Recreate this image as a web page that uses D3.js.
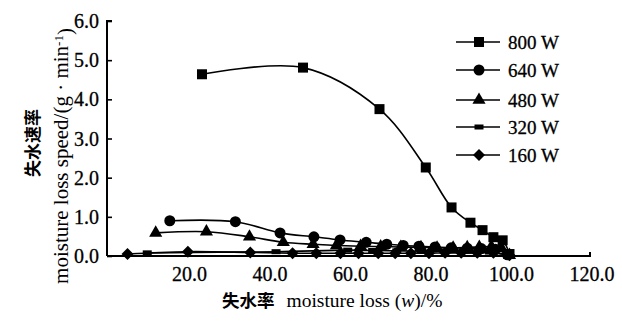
<!DOCTYPE html>
<html>
<head>
<meta charset="utf-8">
<script src="https://cdn.jsdelivr.net/npm/d3@7"></script>
<style>
    body { margin: 0; background: #fff; }
    svg text { font-family: "Liberation Serif", "DejaVu Serif", serif; fill: #000; }
    .cjk { font-family: "Noto Sans CJK SC", sans-serif; font-weight: bold; }
</style>
</head>
<body>
<svg id="chart" width="622" height="322"></svg>
<script>
// values
var seriesNames = ["800 W", "640 W", "480 W", "320 W", "160 W"];

var loss800 = [23.6, 48.7, 67.7, 79.2, 85.6, 90.3, 93.3, 96.0, 98.3, 100.0];
var speed800 = [4.64, 4.81, 3.75, 2.26, 1.24, 0.85, 0.66, 0.48, 0.40, 0.05];

var loss640 = [15.6, 31.9, 43.0, 51.4, 57.9, 64.4, 69.5, 73.6, 77.5, 81.5, 85.5, 89.5, 93.0, 96.5, 99.5];
var speed640 = [0.90, 0.875, 0.59, 0.49, 0.41, 0.35, 0.30, 0.27, 0.25, 0.23, 0.21, 0.20, 0.19, 0.17, 0.03];

var loss480 = [12.1, 24.7, 35.4, 43.8, 51.2, 57.0, 63.0, 68.0, 73.0, 78.0, 82.0, 86.0, 89.5, 92.5, 95.5, 98.0, 100.0];
var speed480 = [0.59, 0.62, 0.49, 0.35, 0.30, 0.27, 0.25, 0.24, 0.23, 0.22, 0.21, 0.21, 0.22, 0.23, 0.24, 0.20, 0.02];

var loss320 = [10.0, 42.0, 59.8, 66.0, 72.0, 78.0, 84.0, 90.0, 95.0, 100.0];
var speed320 = [0.08, 0.11, 0.15, 0.14, 0.13, 0.12, 0.12, 0.12, 0.10, 0.02];

var loss160 = [5.1, 20.1, 35.6, 46.1, 52.0, 58.0, 62.5, 67.4, 71.6, 75.5, 80.0, 84.0, 88.0, 92.0, 96.0, 100.0];
var speed160 = [0.05, 0.11, 0.09, 0.07, 0.07, 0.07, 0.07, 0.07, 0.07, 0.07, 0.07, 0.08, 0.08, 0.08, 0.08, 0.02];

var xTicks = [20, 40, 60, 80, 100, 120];
var yTicks = [0, 1, 2, 3, 4, 5, 6];

var lossCols = [loss800, loss640, loss480, loss320, loss160];
var speedCols = [speed800, speed640, speed480, speed320, speed160];
var shapes = ["square", "circle", "triangle", "dash", "diamond"];

var svg = d3.select("#chart");

var x = d3.scaleLinear().domain([0, 120]).range([107, 590]);
var y = d3.scaleLinear().domain([0, 6]).range([256, 21]);

// axes
var yAxis = svg.append("g")
    .attr("transform", "translate(107,0)")
    .call(d3.axisRight(y).tickValues(yTicks).tickSize(5).tickFormat(""));
yAxis.select(".domain").attr("stroke-width", 2).attr("d", "M5,21H0V256");
yAxis.selectAll(".tick line").attr("stroke-width", 1.6);

svg.selectAll(".ylab")
    .data(yTicks)
    .enter().append("text")
    .attr("class", "ylab")
    .attr("x", 99)
    .attr("y", function (d) { return y(d); })
    .attr("dy", "0.35em")
    .attr("text-anchor", "end")
    .style("font-size", "20px")
    .style("stroke", "#000").style("stroke-width", 0.3)
    .text(function (d) { return d.toFixed(1); });

var xAxis = svg.append("g")
    .attr("transform", "translate(0,256)")
    .call(d3.axisTop(x).tickValues([120]).tickSize(4).tickFormat(""));
xAxis.select(".domain").attr("stroke-width", 2).attr("d", "M107,0H590V-4");
xAxis.selectAll(".tick line").remove();

svg.selectAll(".xlab")
    .data(xTicks)
    .enter().append("text")
    .attr("class", "xlab")
    .attr("x", function (d) { return x(d) + 2; })
    .attr("y", 274)
    .attr("dy", "0.35em")
    .attr("text-anchor", "middle")
    .style("font-size", "20px")
    .style("stroke", "#000").style("stroke-width", 0.3)
    .text(function (d) { return d.toFixed(1); });

// axis titles
var xt = svg.append("text")
    .attr("x", 222)
    .attr("y", 307)
    .style("font-size", "19.5px");
xt.append("tspan").attr("class", "cjk").style("font-size", "17.5px").text("失水率");
xt.append("tspan").attr("dx", 12).text("moisture loss (");
xt.append("tspan").style("font-style", "italic").text("w");
xt.append("tspan").text(")/%");

svg.append("text")
    .attr("class", "cjk")
    .attr("transform", "translate(33,143) rotate(-90)")
    .attr("text-anchor", "middle")
    .attr("dy", "0.35em")
    .style("font-size", "17px")
    .text("失水速率");

var yt = svg.append("text")
    .attr("transform", "translate(61,156) rotate(-90)")
    .attr("text-anchor", "middle")
    .attr("dy", "0.35em")
    .style("font-size", "21px");
yt.append("tspan").text("moisture loss speed/(g · min");
yt.append("tspan").attr("dy", "-0.45em").style("font-size", "13px").text("-1");
yt.append("tspan").attr("dy", "0.45em").text(")");

// marker drawing
function drawMarker(g, shape) {
    if (shape == "square")
        g.append("rect").attr("x", -5).attr("y", -5).attr("width", 10).attr("height", 10);
    else if (shape == "circle")
        g.append("circle").attr("r", 5.5);
    else if (shape == "triangle")
        g.append("path").attr("d", d3.symbol(d3.symbolTriangle, 75)());
    else if (shape == "dash")
        g.append("rect").attr("x", -4.5).attr("y", -2.5).attr("width", 9).attr("height", 5);
    else
        g.append("path").attr("d", "M0,-6L6,0L0,6L-6,0Z");
}

var line = d3.line()
    .x(function (d) { return x(d[0]); })
    .y(function (d) { return y(d[1]); })
    .curve(d3.curveCatmullRom.alpha(0.5));

// draw lower series first so 800 W sits on top
for (var s = seriesNames.length - 1; s >= 0; s--) {
    var pts = lossCols[s].map(function (v, i) { return [v, speedCols[s][i]]; });
    svg.append("path")
        .datum(pts)
        .attr("fill", "none")
        .attr("stroke", "#000")
        .attr("stroke-width", 1.6)
        .attr("d", line);
    var shape = shapes[s];
    svg.selectAll(".m" + s)
        .data(pts)
        .enter().append("g")
        .attr("class", "m" + s)
        .attr("transform", function (d) { return "translate(" + x(d[0]) + "," + y(d[1]) + ")"; })
        .attr("fill", "#000")
        .each(function () { drawMarker(d3.select(this), shape); });
}

// legend
var legend = svg.append("g").attr("transform", "translate(456,0)");
var rowY = [42, 70, 100, 127, 155];
seriesNames.forEach(function (name, i) {
    var row = legend.append("g").attr("transform", "translate(0," + rowY[i] + ")");
    row.append("line")
        .attr("x1", 0).attr("x2", 44)
        .attr("stroke", "#000").attr("stroke-width", 1.6);
    var m = row.append("g").attr("transform", "translate(23,0)").attr("fill", "#000");
    drawMarker(m, shapes[i]);
    row.append("text")
        .attr("x", 52)
        .attr("dy", "0.35em")
        .style("font-size", "19px")
        .style("stroke", "#000").style("stroke-width", 0.3)
        .text(name);
});
</script>
</body>
</html>
